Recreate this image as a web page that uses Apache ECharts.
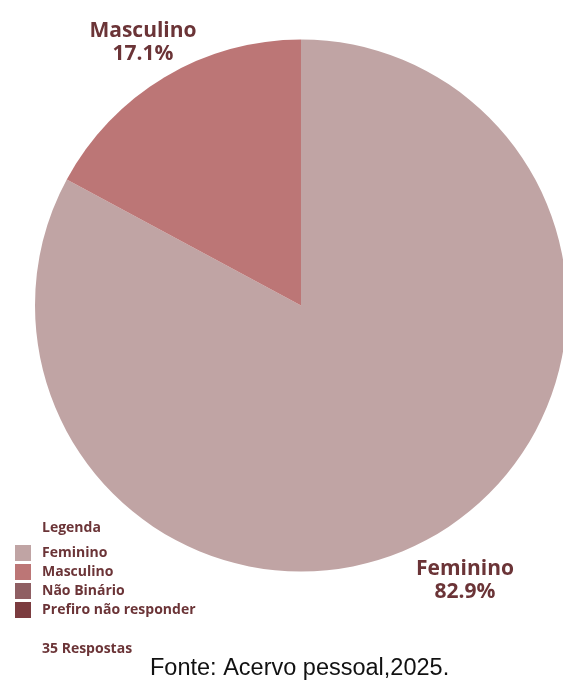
<!DOCTYPE html>
<html>
<head>
<meta charset="utf-8">
<script src="https://cdn.jsdelivr.net/npm/echarts@6/dist/echarts.min.js"></script>
<style>html,body{margin:0;padding:0;background:#fff}#c{width:563px;height:680px}</style>
</head>
<body>
<div id="c"></div>
<script>
const categories = ['Feminino', 'Masculino', 'Não Binário', 'Prefiro não responder'];
const values = [29, 6, 0, 0];
const colors = ['#c0a4a4', '#bc7676', '#8f5f63', '#7b3c3f'];
const legendTitle = 'Legenda';
const totalText = '35 Respostas';
const sourceText = 'Fonte: Acervo pessoal,2025.';

const textColor = '#6b3437';
const font = '"Open Sans", "Noto Sans", sans-serif';
const labelPos = { 'Feminino': [465, 581], 'Masculino': [143, 43] };

const chart = echarts.init(document.getElementById('c'), null, { renderer: 'canvas' });
chart.setOption({
  animation: false,
  color: colors,
  legend: {
    data: categories,
    orient: 'vertical',
    left: 15,
    top: 545,
    padding: 0,
    icon: 'rect',
    itemWidth: 16,
    itemHeight: 16,
    itemGap: 3,
    selectedMode: false,
    textStyle: { color: textColor, fontFamily: font, fontWeight: 'bold', fontSize: 14, padding: [0, 0, 0, 6] }
  },
  graphic: [
    { type: 'text', left: 42, top: 521, style: { text: legendTitle, fill: textColor, font: 'bold 14px ' + font } },
    { type: 'text', left: 42, top: 642, style: { text: totalText, fill: textColor, font: 'bold 14px ' + font } },
    { type: 'text', left: 150, top: 657, style: { text: sourceText, fill: '#111', font: '23.5px "Liberation Sans", Arial, sans-serif' } }
  ],
  series: [{
    type: 'pie',
    center: [301, 305.5],
    radius: 266,
    startAngle: 90,
    clockwise: true,
    percentPrecision: 1,
    silent: true,
    data: categories.map((n, i) => ({
      name: n,
      value: values[i],
      label: { show: values[i] > 0 }
    })),
    label: {
      position: 'outside',
      formatter: '{b}\n{d}%',
      color: textColor,
      fontFamily: font,
      fontWeight: 'bold',
      fontSize: 21,
      lineHeight: 23,
      align: 'center',
      overflow: 'none',
      width: 200
    },
    labelLine: { show: false },
    labelLayout: function (p) {
      const name = categories[p.dataIndex];
      const pos = labelPos[name];
      if (!pos) return {};
      return { x: pos[0], y: pos[1], align: 'center', verticalAlign: 'middle' };
    }
  }]
});
</script>
</body>
</html>
